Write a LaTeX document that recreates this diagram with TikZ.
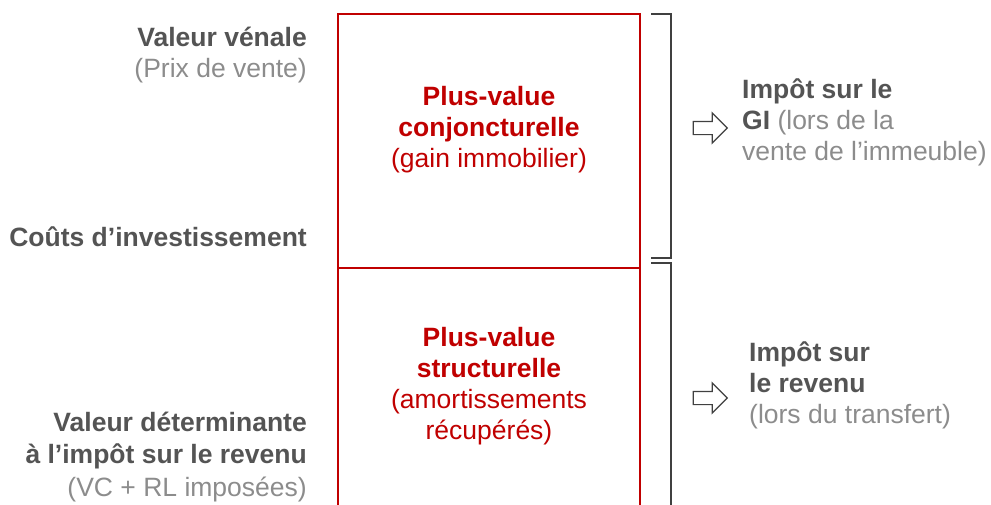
\documentclass[tikz,border=0pt]{standalone}
\usepackage{fontspec}
\setmainfont{Liberation Sans}
\usetikzlibrary{shapes.arrows}
\begin{document}
\begin{tikzpicture}[x=1pt,y=-1pt]
\definecolor{pvred}{RGB}{192,0,0}
\definecolor{darktext}{RGB}{84,84,84}
\definecolor{lighttext}{RGB}{140,140,140}
\definecolor{bracketgrey}{RGB}{64,64,64}
\tikzstyle{label}=[inner sep=0pt,font=\fontsize{26.5}{31}\selectfont]
\tikzstyle{lefttext}=[label,anchor=east,align=right,text=darktext]
\tikzstyle{righttext}=[label,anchor=west,align=left,text=darktext]
\tikzstyle{boxtext}=[label,align=center,text=pvred]
\tikzstyle{box}=[draw=pvred,line width=2pt]
\tikzstyle{bracket}=[draw=bracketgrey,line width=1.5pt]
\tikzstyle{outarrow}=[single arrow,draw=bracketgrey,line width=1.2pt,fill=white,inner sep=0pt,minimum height=34pt,minimum width=30pt,single arrow head extend=8.5pt,text height=12pt]
\newcommand{\grey}[1]{\textcolor{lighttext}{#1}}
\useasboundingbox (0,0) rectangle (991,504);
% left labels
\node[lefttext] (vv) at (307,55) {\textbf{Valeur vénale}\\\grey{(Prix de vente)}};
\node[lefttext] (ci) at (307,237) {\textbf{Coûts d’investissement}};
\node[lefttext,font=\fontsize{26.5}{32.5}\selectfont] (vd) at (307,457) {\textbf{Valeur déterminante}\\\textbf{à l’impôt sur le revenu}\\\grey{(VC + RL imposées)}};
% red box
\coordinate (tl) at (338,14);
\coordinate (tr) at (640,14);
\coordinate (ml) at (338,268);
\coordinate (mr) at (640,268);
\coordinate (bl) at (338,510);
\coordinate (br) at (640,510);
\draw[box] (bl) -- (tl) -- (tr) -- (br);
\draw[box] (ml) -- (mr);
\node[boxtext] (pvc) at (489,130) {\textbf{Plus-value}\\\textbf{conjoncturelle}\\(gain immobilier)};
\node[boxtext] (pvs) at (489,386) {\textbf{Plus-value}\\\textbf{structurelle}\\(amortissements\\récupérés)};
% brackets
\draw[bracket] (651,14) -- (671,14) -- (671,258) -- (651,258);
\draw[bracket] (651,263) -- (671,263) -- (671,510);
% arrows
\node[outarrow] (a1) at (707,128) {};
\node[outarrow] (a2) at (707,398) {};
% right labels
\node[righttext] (gi) at (742,122) {\textbf{Impôt sur le}\\\textbf{GI} \grey{(lors de la}\\\grey{vente de l’immeuble)}};
\node[righttext] (ir) at (749,385) {\textbf{Impôt sur}\\\textbf{le revenu}\\\grey{(lors du transfert)}};
\end{tikzpicture}
\end{document}
